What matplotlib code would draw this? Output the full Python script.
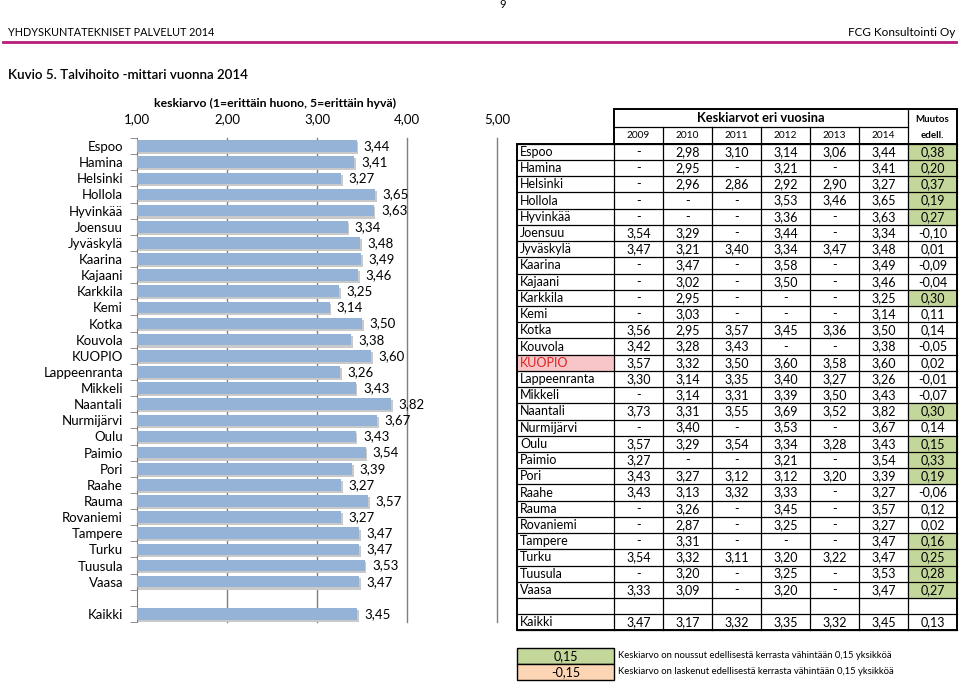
import matplotlib.pyplot as plt
from matplotlib.patches import Rectangle

plt.rcParams['font.family'] = ['Lato', 'DejaVu Sans']

# --- data ---
cities = ['Espoo', 'Hamina', 'Helsinki', 'Hollola', 'Hyvinkää', 'Joensuu', 'Jyväskylä',
          'Kaarina', 'Kajaani', 'Karkkila', 'Kemi', 'Kotka', 'Kouvola', 'KUOPIO',
          'Lappeenranta', 'Mikkeli', 'Naantali', 'Nurmijärvi', 'Oulu', 'Paimio', 'Pori',
          'Raahe', 'Rauma', 'Rovaniemi', 'Tampere', 'Turku', 'Tuusula', 'Vaasa']
years = ['2009', '2010', '2011', '2012', '2013', '2014']
y2009 = [None, None, None, None, None, 3.54, 3.47, None, None, None, None, 3.56, 3.42, 3.57,
         3.30, None, 3.73, None, 3.57, 3.27, 3.43, 3.43, None, None, None, 3.54, None, 3.33]
y2010 = [2.98, 2.95, 2.96, None, None, 3.29, 3.21, 3.47, 3.02, 2.95, 3.03, 2.95, 3.28, 3.32,
         3.14, 3.14, 3.31, 3.40, 3.29, None, 3.27, 3.13, 3.26, 2.87, 3.31, 3.32, 3.20, 3.09]
y2011 = [3.10, None, 2.86, None, None, None, 3.40, None, None, None, None, 3.57, 3.43, 3.50,
         3.35, 3.31, 3.55, None, 3.54, None, 3.12, 3.32, None, None, None, 3.11, None, None]
y2012 = [3.14, 3.21, 2.92, 3.53, 3.36, 3.44, 3.34, 3.58, 3.50, None, None, 3.45, None, 3.60,
         3.40, 3.39, 3.69, 3.53, 3.34, 3.21, 3.12, 3.33, 3.45, 3.25, None, 3.20, 3.25, 3.20]
y2013 = [3.06, None, 2.90, 3.46, None, None, 3.47, None, None, None, None, 3.36, None, 3.58,
         3.27, 3.50, 3.52, None, 3.28, None, 3.20, None, None, None, None, 3.22, None, None]
y2014 = [3.44, 3.41, 3.27, 3.65, 3.63, 3.34, 3.48, 3.49, 3.46, 3.25, 3.14, 3.50, 3.38, 3.60,
         3.26, 3.43, 3.82, 3.67, 3.43, 3.54, 3.39, 3.27, 3.57, 3.27, 3.47, 3.47, 3.53, 3.47]
muutos = [0.38, 0.20, 0.37, 0.19, 0.27, -0.10, 0.01, -0.09, -0.04, 0.30, 0.11, 0.14, -0.05, 0.02,
          -0.01, -0.07, 0.30, 0.14, 0.15, 0.33, 0.19, -0.06, 0.12, 0.02, 0.16, 0.25, 0.28, 0.27]
kaikki_row = [3.47, 3.17, 3.32, 3.35, 3.32, 3.45]
kaikki_muutos = 0.13
xticks = [1, 2, 3, 4, 5]
limit = 0.15


def fmt(v):
    return '-' if v is None else f'{v:.2f}'.replace('.', ',')


W, H = 959, 684
fig = plt.figure(figsize=(W / 100, H / 100), dpi=100)


def rect(x0, y0, x1, y1):
    return [x0 / W, 1 - y1 / H, (x1 - x0) / W, (y1 - y0) / H]


# page overlay in pixel units
pg = fig.add_axes([0, 0, 1, 1])
pg.set_xlim(0, W)
pg.set_ylim(H, 0)
pg.axis('off')

pg.text(503, 5, '9', ha='center', va='center', fontsize=8)
pg.text(8, 33, 'YHDYSKUNTATEKNISET PALVELUT 2014', ha='left', va='center', fontsize=7.8)
pg.text(955, 33, 'FCG Konsultointi Oy', ha='right', va='center', fontsize=8.5)
pg.plot([3, 956], [42, 42], color='#B81C7C', lw=2)
pg.text(8, 75, 'Kuvio 5. Talvihoito -mittari vuonna 2014', ha='left', va='center',
        fontsize=9.6, fontweight='semibold')
pg.text(275, 103, 'keskiarvo (1=erittäin huono, 5=erittäin hyvä)', ha='center', va='center',
        fontsize=8.8, fontweight='bold')

# --- bar chart ---
ax = fig.add_axes(rect(137, 138, 497, 622))
labels = cities + ['Kaikki']
vals = y2014 + [kaikki_row[-1]]
pos = list(range(len(cities))) + [len(cities) + 1]
for t in xticks[1:]:
    ax.axvline(t, color='#7F7F7F', lw=1.0, zorder=1, clip_on=False)
ax.barh([p + 0.13 for p in pos], [v + 0.02 for v in vals], height=0.72, color='#C9C9C9', zorder=2)
ax.barh(pos, vals, height=0.72, color='#95B3D7', zorder=3)
for p, v in zip(pos, vals):
    ax.text(v + 0.08, p, fmt(v), ha='left', va='center', fontsize=9.5, zorder=4)
ax.set_xlim(1, 5)
ax.set_ylim(len(pos) + 0.5, -0.5)
ax.xaxis.tick_top()
ax.set_xticks(xticks)
ax.set_xticklabels([fmt(float(t)) for t in xticks], fontsize=9.5)
ax.tick_params(axis='x', length=0, pad=9)
ax.set_yticks(pos)
ax.set_yticklabels(labels, fontsize=9.5)
ax.set_yticks([p - 0.5 for p in range(len(pos) + 2)], minor=True)
ax.tick_params(axis='y', which='major', length=0, pad=10)
ax.tick_params(axis='y', which='minor', length=5, color='#7F7F7F', direction='out')
for s in ['top', 'bottom', 'right']:
    ax.spines[s].set_visible(False)
ax.spines['left'].set_color('#7F7F7F')
ax.set_facecolor('none')

# --- table ---
col_edges = [517, 614, 663, 712, 761, 810, 859, 908, 957]
head_top, head_mid, body_top = 109, 127, 143.8
row_h = 16.22
n_rows = len(cities) + 2
body_bot = body_top + n_rows * row_h
green, peach = '#C4D79B', '#FCD5B4'
lw_in, lw_out = 0.9, 1.4
fs_tab = 9

table_rows = []
for i, c in enumerate(cities):
    table_rows.append((c, [y2009[i], y2010[i], y2011[i], y2012[i], y2013[i], y2014[i]], muutos[i]))
table_rows.append(None)
table_rows.append(('Kaikki', kaikki_row, kaikki_muutos))

for r, row in enumerate(table_rows):
    y0 = body_top + r * row_h
    yc = y0 + row_h / 2
    if row is None:
        continue
    name, cells, ch = row
    if name == 'KUOPIO':
        pg.add_patch(Rectangle((col_edges[0], y0), col_edges[1] - col_edges[0], row_h,
                               color='#F8C6C8', zorder=1))
    if ch >= limit or ch <= -limit:
        pg.add_patch(Rectangle((col_edges[7], y0), col_edges[8] - col_edges[7], row_h,
                               color=green if ch > 0 else peach, zorder=1))
    pg.text(col_edges[0] + 3, yc, name, ha='left', va='center', fontsize=fs_tab,
            color='#E0201B' if name == 'KUOPIO' else 'black', zorder=3)
    for j, v in enumerate(cells):
        pg.text((col_edges[j + 1] + col_edges[j + 2]) / 2, yc, fmt(v), ha='center',
                va='center', fontsize=fs_tab, zorder=3)
    pg.text((col_edges[7] + col_edges[8]) / 2, yc, fmt(ch), ha='center', va='center',
            fontsize=fs_tab, zorder=3)

# grid lines of the body
for r in range(n_rows + 1):
    y = body_top + r * row_h
    pg.plot([col_edges[0], col_edges[-1]], [y, y], color='black', lw=lw_in, zorder=2)
for x in col_edges[1:-1]:
    pg.plot([x, x], [body_top, body_bot], color='black', lw=lw_in, zorder=2)
pg.add_patch(Rectangle((col_edges[0], body_top), col_edges[-1] - col_edges[0], body_bot - body_top,
                       fill=False, ec='black', lw=lw_out, zorder=2))

# header
pg.add_patch(Rectangle((col_edges[1], head_top), col_edges[-1] - col_edges[1], body_top - head_top,
                       fill=False, ec='black', lw=lw_out, zorder=2))
pg.plot([col_edges[1], col_edges[7]], [head_mid, head_mid], color='black', lw=lw_in, zorder=2)
pg.plot([col_edges[7], col_edges[7]], [head_top, body_top], color='black', lw=lw_in, zorder=2)
for x in col_edges[2:7]:
    pg.plot([x, x], [head_mid, body_top], color='black', lw=lw_in, zorder=2)
pg.text((col_edges[1] + col_edges[7]) / 2, (head_top + head_mid) / 2, 'Keskiarvot eri vuosina',
        ha='center', va='center', fontsize=9.3, fontweight='bold')
pg.text((col_edges[7] + col_edges[8]) / 2, (head_top + head_mid) / 2 + 1, 'Muutos',
        ha='center', va='center', fontsize=7, fontweight='bold')
pg.text((col_edges[7] + col_edges[8]) / 2, (head_mid + body_top) / 2, 'edell.',
        ha='center', va='center', fontsize=7, fontweight='bold')
for j, yr in enumerate(years):
    pg.text((col_edges[j + 1] + col_edges[j + 2]) / 2, (head_mid + body_top) / 2, yr,
            ha='center', va='center', fontsize=7.3)

# --- legend ---
leg_items = [(limit, green, 'Keskiarvo on noussut edellisestä kerrasta vähintään 0,15 yksikköä'),
             (-limit, peach, 'Keskiarvo on laskenut edellisestä kerrasta vähintään 0,15 yksikköä')]
leg_top, leg_h = 648, 16
for k, (v, colr, txt) in enumerate(leg_items):
    y0 = leg_top + k * leg_h
    pg.add_patch(Rectangle((col_edges[0], y0), col_edges[1] - col_edges[0], leg_h,
                           fc=colr, ec='black', lw=1.0, zorder=2))
    pg.text((col_edges[0] + col_edges[1]) / 2, y0 + leg_h / 2, fmt(v), ha='center', va='center',
            fontsize=fs_tab, zorder=3)
    pg.text(col_edges[1] + 4, y0 + leg_h / 2, txt, ha='left', va='center', fontsize=6.8)

fig.savefig('out.png', dpi=100)
